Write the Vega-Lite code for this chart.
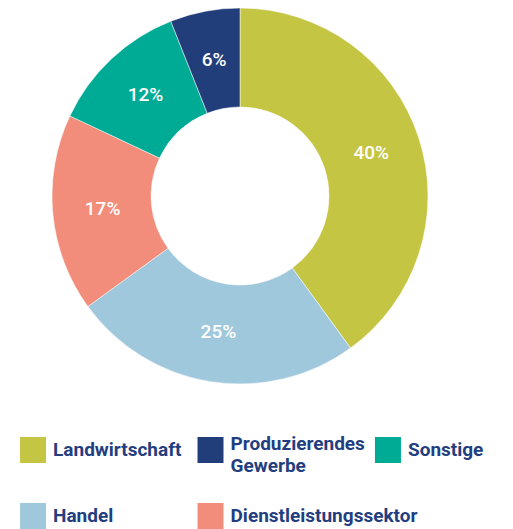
{
  "$schema": "https://vega.github.io/schema/vega-lite/v6.json",
  "background": "white",
  "padding": 5,
  "spacing": 48,
  "data": {
    "values": [
      {"category": "Landwirtschaft", "share": 40},
      {"category": "Handel", "share": 25},
      {"category": "Dienstleistungssektor", "share": 17},
      {"category": "Sonstige", "share": 12},
      {"category": "Produzierendes Gewerbe", "share": 6}
    ]
  },
  "vconcat": [
    {
      "width": 470,
      "height": 382,
      "view": {"stroke": null},
      "encoding": {
        "theta": {"field": "share", "type": "quantitative", "stack": true},
        "order": {"field": "share", "sort": "descending"},
        "color": {
          "field": "category",
          "type": "nominal",
          "legend": null,
          "scale": {
            "domain": ["Landwirtschaft", "Produzierendes Gewerbe", "Sonstige", "Handel", "Dienstleistungssektor"],
            "range": ["#c5c544", "#213e7a", "#00ab96", "#a0c8dc", "#f28d7b"]
          }
        }
      },
      "layer": [
        {"mark": {"type": "arc", "outerRadius": 188, "innerRadius": 89, "stroke": "white", "strokeWidth": 0.5}},
        {
          "mark": {"type": "text", "radius": 138, "fill": "white", "fontSize": 19, "font": "Roboto", "fontWeight": 500, "align": "center", "baseline": "middle"},
          "encoding": {
            "text": {"field": "label", "type": "nominal"},
            "color": {"value": "white"}
          },
          "transform": [{"calculate": "datum.share + '%'", "as": "label"}]
        }
      ]
    },
    {
      "width": 411,
      "height": 66,
      "view": {"stroke": null},
      "transform": [
        {"calculate": "indexof(['Landwirtschaft','Produzierendes Gewerbe','Sonstige','Handel','Dienstleistungssektor'], datum.category)", "as": "k"},
        {"calculate": "datum.k % 3", "as": "col"},
        {"calculate": "floor(datum.k / 3)", "as": "row"}
      ],
      "encoding": {
        "x": {"field": "col", "type": "ordinal", "axis": null, "scale": {"type": "point", "padding": 0.158}},
        "y": {"field": "row", "type": "quantitative", "axis": null, "scale": {"domain": [0, 1], "reverse": true, "nice": false, "zero": false}}
      },
      "layer": [
        {
          "mark": {"type": "square", "size": 676, "opacity": 1, "filled": true},
          "encoding": {
            "color": {
              "field": "category",
              "type": "nominal",
              "legend": null,
              "scale": {
                "domain": ["Landwirtschaft", "Produzierendes Gewerbe", "Sonstige", "Handel", "Dienstleistungssektor"],
                "range": ["#c5c544", "#213e7a", "#00ab96", "#a0c8dc", "#f28d7b"]
              }
            }
          }
        },
        {
          "transform": [{"filter": "indexof(datum.category, ' ') < 0"}],
          "mark": {"type": "text", "align": "left", "baseline": "middle", "dx": 20, "fontSize": 19, "font": "Roboto", "fontWeight": "bold", "fill": "#233e80"},
          "encoding": {"text": {"field": "category", "type": "nominal"}}
        },
        {
          "transform": [{"filter": "indexof(datum.category, ' ') >= 0"}],
          "mark": {"type": "text", "align": "left", "baseline": "middle", "dx": 20, "dy": -6, "fontSize": 19, "font": "Roboto", "fontWeight": "bold", "fill": "#233e80", "lineBreak": " ", "lineHeight": 21.5},
          "encoding": {"text": {"field": "category", "type": "nominal"}}
        }
      ]
    }
  ],
  "config": {"view": {"stroke": null}}
}
